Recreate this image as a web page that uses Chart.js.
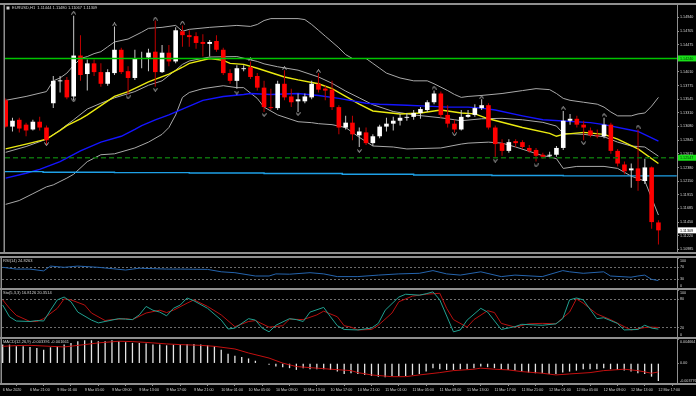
<!DOCTYPE html>
<html>
<head>
<meta charset="utf-8">
<script src="https://cdn.jsdelivr.net/npm/chart.js@4.4.1/dist/chart.umd.min.js"></script>
<style>
  html, body { margin: 0; padding: 0; background: #000; }
  #wrap { position: relative; width: 696px; height: 396px; overflow: hidden; background: #000; }
  canvas { position: absolute; left: 0; }
</style>
</head>
<body>
<div id="wrap">
  <canvas id="main" width="696" height="257" style="top:0"></canvas>
  <canvas id="rsi" width="696" height="33" style="top:256px"></canvas>
  <canvas id="sto" width="696" height="50" style="top:288px"></canvas>
  <canvas id="macd" width="696" height="59" style="top:337px"></canvas>
</div>
<script>
// ---- data (EURUSD H1, 6 Mar 17:00 .. 12 Mar 17:00) ----
const mainTitle = 'EURUSD,H1  1.11444 1.11480 1.11067 1.11309';
const timeLabels = ['6 Mar 2020', '6 Mar 21:00', '9 Mar 01:00', '9 Mar 05:00', '9 Mar 09:00', '9 Mar 13:00',
  '9 Mar 17:00', '9 Mar 21:00', '10 Mar 01:00', '10 Mar 05:00', '10 Mar 09:00', '10 Mar 13:00', '10 Mar 17:00',
  '10 Mar 21:00', '11 Mar 01:00', '11 Mar 05:00', '11 Mar 09:00', '11 Mar 13:00', '11 Mar 17:00', '11 Mar 21:00',
  '12 Mar 01:00', '12 Mar 05:00', '12 Mar 09:00', '12 Mar 13:00', '12 Mar 17:00'];
const priceTicks = [1.14940, 1.14705, 1.14475, 1.14240, 1.14010, 1.13775, 1.13545, 1.13310, 1.13080,
  1.12845, 1.12615, 1.12380, 1.12150, 1.11915, 1.11685, 1.11450, 1.11220, 1.10985];

const openP = [1.13526, 1.13078, 1.13194, 1.13111, 1.13029, 1.13161, 1.13062, 1.13476, 1.13850, 1.13874,
  1.13592, 1.14289, 1.13974, 1.14156, 1.14007, 1.13808, 1.13990, 1.14388, 1.14023, 1.13907,
  1.14231, 1.14256, 1.14355, 1.14007, 1.14338, 1.14189, 1.14703, 1.14637, 1.14620, 1.14521,
  1.14488, 1.14537, 1.14388, 1.13990, 1.13858, 1.14057, 1.14090, 1.13941, 1.13742, 1.13410,
  1.13393, 1.13808, 1.13592, 1.13509, 1.13509, 1.13576, 1.13808, 1.13725, 1.13708, 1.13410,
  1.13062, 1.13145, 1.12929, 1.12979, 1.12796, 1.12913, 1.13078, 1.13128, 1.13178, 1.13228,
  1.13244, 1.13310, 1.13360, 1.13493, 1.13642, 1.13277, 1.13128, 1.13029, 1.13244, 1.13277,
  1.13393, 1.13443, 1.13062, 1.12796, 1.12664, 1.12830, 1.12813, 1.12714, 1.12680, 1.12598,
  1.12581, 1.12598, 1.12714, 1.13178, 1.13211, 1.13111, 1.13012, 1.12929, 1.12913, 1.13111,
  1.12664, 1.12432, 1.12332, 1.12365, 1.12150, 1.12382, 1.11444];
const highP = [1.13559, 1.13228, 1.13228, 1.13145, 1.13194, 1.13244, 1.13095, 1.13941, 1.13941, 1.13924,
  1.14968, 1.14637, 1.14222, 1.14222, 1.14156, 1.14057, 1.14786, 1.14421, 1.14106, 1.14388,
  1.14355, 1.14405, 1.14886, 1.14471, 1.14471, 1.14770, 1.14803, 1.14720, 1.14687, 1.14653,
  1.14554, 1.14637, 1.14421, 1.14057, 1.14123, 1.14123, 1.14189, 1.13990, 1.13858, 1.13725,
  1.13858, 1.14040, 1.13725, 1.13642, 1.13642, 1.13858, 1.13990, 1.13775, 1.13858, 1.13443,
  1.13261, 1.13261, 1.13062, 1.13062, 1.12946, 1.13111, 1.13228, 1.13244, 1.13294, 1.13310,
  1.13360, 1.13410, 1.13526, 1.13692, 1.13675, 1.13443, 1.13194, 1.13360, 1.13360, 1.13460,
  1.13543, 1.13476, 1.13095, 1.12863, 1.12863, 1.12863, 1.12846, 1.12763, 1.12714, 1.12631,
  1.12647, 1.12747, 1.13344, 1.13294, 1.13261, 1.13178, 1.13062, 1.13029, 1.13228, 1.13145,
  1.12697, 1.12481, 1.12448, 1.13029, 1.12531, 1.12399, 1.11480];
const lowP = [1.13062, 1.12995, 1.12979, 1.12913, 1.13012, 1.13012, 1.12763, 1.13393, 1.13659, 1.13543,
  1.13526, 1.13858, 1.13692, 1.13941, 1.13758, 1.13775, 1.13957, 1.13974, 1.13626, 1.13874,
  1.14073, 1.14023, 1.13758, 1.13990, 1.14106, 1.14156, 1.14438, 1.14438, 1.14405, 1.14272,
  1.14272, 1.14355, 1.13957, 1.13808, 1.13725, 1.14023, 1.13891, 1.13692, 1.13327, 1.13360,
  1.13360, 1.13526, 1.13410, 1.13327, 1.13476, 1.13543, 1.13659, 1.13526, 1.13360, 1.12946,
  1.13029, 1.12846, 1.12730, 1.12763, 1.12747, 1.12879, 1.12995, 1.13012, 1.13095, 1.13178,
  1.13194, 1.13211, 1.13327, 1.13460, 1.13228, 1.13062, 1.12979, 1.13012, 1.13228, 1.13244,
  1.13360, 1.13029, 1.12564, 1.12581, 1.12631, 1.12730, 1.12697, 1.12631, 1.12481, 1.12531,
  1.12548, 1.12564, 1.12680, 1.13111, 1.13062, 1.12846, 1.12896, 1.12879, 1.12879, 1.12614,
  1.12399, 1.12266, 1.12034, 1.11984, 1.12100, 1.11337, 1.11067];
const closeP = [1.13078, 1.13178, 1.13045, 1.13012, 1.13161, 1.13062, 1.12846, 1.13858, 1.13866, 1.13576,
  1.14289, 1.13957, 1.14156, 1.14007, 1.13808, 1.14007, 1.14388, 1.14007, 1.13907, 1.14239,
  1.14247, 1.14338, 1.14007, 1.14338, 1.14189, 1.14720, 1.14637, 1.14604, 1.14504, 1.14488,
  1.14521, 1.14388, 1.13990, 1.13858, 1.14073, 1.14073, 1.13924, 1.13742, 1.13410, 1.13393,
  1.13808, 1.13576, 1.13493, 1.13543, 1.13592, 1.13808, 1.13708, 1.13692, 1.13410, 1.13062,
  1.13145, 1.12946, 1.12995, 1.12796, 1.12913, 1.13078, 1.13128, 1.13178, 1.13228, 1.13244,
  1.13310, 1.13377, 1.13493, 1.13642, 1.13277, 1.13128, 1.13029, 1.13244, 1.13277, 1.13393,
  1.13443, 1.13062, 1.12780, 1.12664, 1.12813, 1.12796, 1.12730, 1.12664, 1.12581, 1.12564,
  1.12598, 1.12714, 1.13178, 1.13211, 1.13111, 1.13062, 1.12929, 1.12913, 1.13111, 1.12664,
  1.12448, 1.12316, 1.12365, 1.12150, 1.12382, 1.11450, 1.11309];

// indicator lines: [bar, value]
const bbUpper = [[0,1.13526],[3,1.13592],[6,1.13675],[7,1.13858],[8,1.13907],[9,1.13990],[10,1.14123],[11,1.14239],
  [12,1.14272],[13,1.14322],[14,1.14355],[15,1.14438],[16,1.14521],[18,1.14571],[20,1.14687],[21,1.14753],[23,1.14770],
  [25,1.14803],[26,1.14703],[27,1.14736],[30,1.14770],[34,1.14803],[36,1.14786],[37,1.14819],[38,1.14886],[39,1.14919],
  [43,1.14919],[44,1.14902],[45,1.14819],[46,1.14720],[47,1.14620],[48,1.14521],[49,1.14421],[50,1.14305],[51,1.14239],
  [53,1.14239],[54,1.14156],[55,1.14073],[56,1.13990],[58,1.13907],[60,1.13858],[62,1.13858],[63,1.13808],[65,1.13692],
  [66,1.13626],[67,1.13576],[68,1.13592],[70,1.13609],[73,1.13642],[76,1.13692],[78,1.13725],[80,1.13708],[81,1.13642],
  [82,1.13559],[83,1.13526],[85,1.13493],[87,1.13460],[88,1.13410],[89,1.13327],[90,1.13261],[92,1.13261],[93,1.13294],
  [94,1.13310],[95,1.13427],[96,1.13576]];
const bbMiddle = [[0,1.12639],[3,1.12738],[6,1.12863],[8,1.13020],[10,1.13194],[12,1.13377],[14,1.13476],[16,1.13568],
  [19,1.13675],[21,1.13783],[23,1.13858],[25,1.14040],[26,1.14139],[27,1.14197],[30,1.14264],[34,1.14272],[37,1.14189],
  [38,1.14148],[40,1.14098],[43,1.14040],[46,1.13924],[48,1.13816],[50,1.13683],[52,1.13568],[54,1.13451],[57,1.13335],
  [60,1.13277],[64,1.13228],[67,1.13178],[70,1.13211],[73,1.13219],[76,1.13194],[79,1.13150],[81,1.13087],[82,1.12962],
  [85,1.12946],[88,1.12905],[90,1.12813],[92,1.12747],[94,1.12730],[96,1.12573]];
const bbLower = [[0,1.11752],[2,1.11818],[4,1.11934],[6,1.12051],[7,1.12084],[9,1.12200],[10,1.12266],[12,1.12481],
  [14,1.12598],[16,1.12614],[19,1.12714],[21,1.12813],[23,1.12946],[24,1.13062],[25,1.13277],[26,1.13576],[27,1.13659],
  [29,1.13725],[32,1.13775],[34,1.13742],[35,1.13742],[37,1.13559],[38,1.13410],[40,1.13277],[43,1.13161],[45,1.13145],
  [46,1.13128],[48,1.13111],[50,1.13062],[52,1.12896],[54,1.12747],[57,1.12730],[59,1.12697],[64,1.12714],[67,1.12780],
  [68,1.12796],[71,1.12813],[73,1.12796],[75,1.12730],[79,1.12581],[80,1.12564],[81,1.12531],[82,1.12365],[84,1.12399],
  [88,1.12399],[90,1.12365],[92,1.12233],[94,1.12150],[96,1.11570]];
const maYellow = [[0,1.12697],[3,1.12780],[6,1.12863],[8,1.13012],[9,1.13095],[11,1.13211],[12,1.13277],[16,1.13592],
  [18,1.13675],[21,1.13841],[24,1.13974],[26,1.14090],[27,1.14156],[30,1.14239],[32,1.14206],[33,1.14156],[35,1.14139],
  [37,1.14073],[41,1.13924],[43,1.13874],[46,1.13808],[48,1.13725],[50,1.13592],[52,1.13460],[54,1.13344],[58,1.13294],
  [61,1.13310],[64,1.13360],[67,1.13310],[69,1.13294],[71,1.13211],[76,1.13062],[80,1.12962],[81,1.12913],[82,1.12946],
  [85,1.12979],[88,1.12946],[90,1.12863],[93,1.12697],[96,1.12448]];
const maBlue = [[0,1.12200],[3,1.12282],[5,1.12349],[8,1.12481],[11,1.12664],[14,1.12813],[17,1.12913],[19,1.13029],
  [20,1.13095],[22,1.13194],[24,1.13277],[29,1.13526],[32,1.13592],[35,1.13626],[36,1.13642],[39,1.13626],[43,1.13642],
  [46,1.13609],[49,1.13559],[53,1.13476],[55,1.13460],[59,1.13443],[62,1.13427],[65,1.13410],[68,1.13410],[70,1.13393],
  [72,1.13360],[76,1.13261],[79,1.13194],[86,1.13145],[88,1.13111],[93,1.12995],[96,1.12830]];
const maCyan = [[-0.1,1.12311],[5.5,1.12299],[16,1.12294],[27,1.12287],[38,1.12278],[49.5,1.12266],[60,1.12254],
  [71.5,1.12244],[82,1.12238],[98.7,1.12238]];
const levelSolid = 1.14240;
const levelDashed = 1.12547;
const lastPrice = 1.11309;
const fractalUp = [[10,1.15018],[16,1.14819],[22,1.14919],[26,1.14852],[36,1.14222],[41,1.14073],[46,1.14023],
  [63,1.13742],[70,1.13576],[82,1.13393],[88,1.13277],[93,1.13078]];
const fractalDown = [[6,1.12780],[10,1.13526],[18,1.13576],[22,1.13708],[34,1.13659],[38,1.13277],[43,1.13294],
  [52,1.12664],[66,1.12946],[72,1.12498],[78,1.12415],[85,1.12796]];

const rsiTitle = 'RSI(14) 24.8263';
const rsiLine = [[0,69],[2,63],[4,63],[6,57],[7,73],[9,69],[11,73],[14,69],[18,60],[20,66],[24,63],[26,63],[30,62],
  [32,54],[34,51],[37,40],[39,40],[40,47],[42,46],[45,51],[47,47],[49,38],[52,38],[55,43],[58,47],[61,49],[63,58],
  [65,47],[67,43],[70,54],[73,38],[75,43],[79,38],[82,58],[83,54],[85,49],[88,54],[89,40],[92,36],[93,40],[94,43],
  [95,29],[96,24.83]];
const rsiAxis = [100, 70, 30, 0];
const rsiLevels = [70, 30];

const stoTitle = 'Sto(5,3,3) 16.8126 20.3514';
const stoMain = [[0,68],[1,43],[2,34],[4,33],[5,35],[6,34],[7,57],[8,79],[9,85],[10,75],[11,53],[13,36],[14,30],[15,33],
  [17,39],[18,38],[19,37],[20,47],[21,65],[22,57],[23,53],[24,45],[25,61],[26,68],[27,83],[28,77],[30,61],[32,36],
  [33,17],[34,19],[36,39],[37,36],[38,19],[39,11],[40,25],[42,39],[43,37],[44,33],[45,53],[47,63],[48,43],[49,24],
  [50,16],[52,15],[54,19],[55,29],[56,57],[58,85],[59,91],[61,89],[62,92],[63,96],[64,79],[66,11],[67,15],[68,36],
  [70,61],[71,53],[73,16],[75,22],[76,27],[79,25],[81,28],[82,39],[83,79],[84,83],[85,79],[87,39],[88,41],[90,29],
  [91,15],[93,16],[94,25],[95,19],[96,16.81]];
const stoSignal = [[0,79],[1,61],[2,46],[4,33],[5,33],[6,39],[8,61],[9,81],[10,79],[12,68],[13,51],[15,35],[16,37],
  [18,39],[19,37],[21,51],[23,57],[24,52],[25,57],[27,72],[28,79],[30,65],[32,47],[34,22],[36,33],[37,35],[39,21],
  [41,24],[42,38],[44,37],[46,47],[47,55],[49,43],[50,24],[51,21],[52,15],[54,16],[55,25],[57,51],[58,75],[60,87],
  [62,91],[64,93],[65,61],[66,37],[68,21],[69,37],[71,56],[72,52],[73,29],[75,21],[77,28],[79,29],[81,28],[83,53],
  [84,81],[85,72],[87,49],[89,37],[91,22],[92,15],[94,20],[95,21],[96,20.35]];
const stoAxis = [100, 80, 20, 0];
const stoLevels = [80, 20];

const macdTitle = 'MACD(12,26,9) -0.003391 -0.001661';
const macdHist = [0.00359, 0.00359, 0.00326, 0.00326, 0.00314, 0.00295, 0.00262, 0.00307, 0.00326, 0.00359,
  0.00392, 0.00423, 0.00442, 0.00442, 0.00423, 0.00423, 0.00442, 0.00423, 0.00404, 0.00392,
  0.00392, 0.00378, 0.00359, 0.00359, 0.00345, 0.00359, 0.00359, 0.00372, 0.00372, 0.00359,
  0.00345, 0.00326, 0.00262, 0.00184, 0.00146, 0.00120, 0.00093, 0.00049, -0.00010, -0.00029,
  -0.00062, -0.00074, -0.00093, -0.00126, -0.00093, -0.00113, -0.00113, -0.00113, -0.00126, -0.00159,
  -0.00204, -0.00190, -0.00204, -0.00223, -0.00243, -0.00256, -0.00268, -0.00243, -0.00243, -0.00243,
  -0.00223, -0.00204, -0.00159, -0.00093, -0.00113, -0.00126, -0.00126, -0.00113, -0.00113, -0.00093,
  -0.00062, -0.00074, -0.00093, -0.00113, -0.00126, -0.00140, -0.00159, -0.00178, -0.00190, -0.00190,
  -0.00204, -0.00204, -0.00178, -0.00159, -0.00140, -0.00113, -0.00113, -0.00113, -0.00093, -0.00113,
  -0.00126, -0.00140, -0.00159, -0.00190, -0.00204, -0.00256, -0.003391];
const macdSignal = [[0,0.00326],[2,0.00340],[4,0.00345],[7,0.00326],[9,0.00314],[12,0.00359],[14,0.00392],[17,0.00423],
  [19,0.00417],[22,0.00392],[24,0.00372],[26,0.00359],[29,0.00345],[31,0.00326],[34,0.00275],[36,0.00198],[39,0.00101],
  [41,0.00004],[43,-0.00062],[46,-0.00093],[48,-0.00113],[51,-0.00140],[52,-0.00178],[54,-0.00223],[57,-0.00256],
  [59,-0.00256],[61,-0.00223],[64,-0.00178],[66,-0.00140],[69,-0.00113],[70,-0.00093],[72,-0.00113],[74,-0.00126],
  [76,-0.00159],[79,-0.00190],[81,-0.00223],[83,-0.00204],[86,-0.00178],[88,-0.00140],[91,-0.00113],[93,-0.00140],
  [95,-0.00190],[96,-0.001661]];
const macdAxis = [0.004664, 0, -0.003776];
const macdAxisText = ['0.004664', '0.00', '-0.003776'];

// ---- look ----
const FAMILY = "'Liberation Sans', Arial, sans-serif";
const AXIS_FONT = { family: FAMILY, size: 3.7 };
const GRAY = '#8f8f8f';
const TXT = '#d4d4d4';
const X_MIN = -0.1, X_MAX = 98.73, AXIS_W = 19;

const pts = arr => arr.map(([x, y]) => ({ x, y }));
const bars = openP.map((_, i) => i);
const isUp = i => closeP[i] >= openP[i];

function chevron(up) {
  const c = document.createElement('canvas');
  c.width = 5; c.height = 4;
  const g = c.getContext('2d');
  g.strokeStyle = '#b8b8b8'; g.lineWidth = 1;
  g.beginPath();
  if (up) { g.moveTo(0.5, 3.5); g.lineTo(2.5, 0.5); g.lineTo(4.5, 3.5); }
  else { g.moveTo(0.5, 0.5); g.lineTo(2.5, 3.5); g.lineTo(4.5, 0.5); }
  g.stroke();
  return c;
}

// black background, panel separators, header text and the side labels
const panelDeco = {
  id: 'panelDeco',
  beforeDraw(chart) {
    const { ctx, width, height } = chart;
    ctx.save();
    ctx.fillStyle = '#000';
    ctx.fillRect(0, 0, width, height);
    ctx.restore();
  },
  afterDraw(chart, args, o) {
    const { ctx, chartArea: a, width } = chart;
    const y = chart.scales.y;
    ctx.save();
    ctx.fillStyle = GRAY;
    ctx.fillRect(0, a.top - 2, width, 2);
    ctx.fillRect(0, a.bottom, width, 2);
    ctx.fillRect(a.left - 1.5, a.top, 1.5, a.bottom - a.top);
    ctx.textBaseline = 'middle';
    if (o.icon) {
      ctx.fillStyle = '#cfcfcf';
      ctx.fillRect(a.left + 1.5, a.top + 1.5, 3, 3);
    }
    ctx.fillStyle = TXT;
    ctx.font = '4px ' + FAMILY;
    ctx.fillText(o.title, a.left + (o.icon ? 7 : 1), a.top + 3);
    ctx.font = '3.7px ' + FAMILY;
    (o.labels || []).forEach(([v, t]) => {
      const py = Math.min(Math.max(y.getPixelForValue(v), a.top + 3), a.bottom - 2.5);
      ctx.fillStyle = TXT;
      ctx.fillText(t, a.right + 3, py);
    });
    (o.boxes || []).forEach(([v, bg, fg]) => {
      const py = y.getPixelForValue(v);
      ctx.fillStyle = bg;
      ctx.fillRect(a.right + 1, py - 3, AXIS_W - 1, 6);
      ctx.fillStyle = fg;
      ctx.fillText(v.toFixed(5), a.right + 3, py + 0.2);
    });
    ctx.restore();
  }
};

function baseOptions(padding, deco) {
  return {
    responsive: false, animation: false, devicePixelRatio: 1, events: [],
    layout: { padding },
    plugins: { legend: { display: false }, tooltip: { enabled: false }, panelDeco: deco }
  };
}
const xHidden = { type: 'linear', min: X_MIN, max: X_MAX, offset: false, display: false };

function subAxis(min, max, tickVals, levels) {
  return {
    position: 'right', min, max,
    afterFit: s => { s.width = AXIS_W; s.paddingTop = 0; s.paddingBottom = 0; },
    afterBuildTicks: s => { s.ticks = tickVals.map(value => ({ value })); },
    ticks: { display: false },
    grid: {
      drawOnChartArea: true, tickLength: 2, tickColor: GRAY, lineWidth: 0.8,
      color: c => (c.tick && levels.includes(c.tick.value)) ? '#8a8a8a' : 'rgba(0,0,0,0)'
    },
    border: { color: GRAY, width: 1, dash: [2, 2] }
  };
}

function line(arr, color, width, extra) {
  return Object.assign({
    type: 'line', data: pts(arr), borderColor: color, borderWidth: width,
    pointRadius: 0, tension: 0, fill: false, order: 5
  }, extra || {});
}

// ---- main price panel ----
new Chart(document.getElementById('main'), {
  type: 'line',
  data: {
    datasets: [
      line([[X_MIN, levelSolid], [X_MAX, levelSolid]], '#00c400', 1.5, { order: 0 }),
      line([[X_MIN, levelDashed], [X_MAX, levelDashed]], '#0c6e0c', 1.3, { order: 0, borderDash: [5, 3] }),
      { type: 'line', showLine: false, data: pts(fractalUp), pointStyle: chevron(true), pointRadius: 3, order: 1 },
      { type: 'line', showLine: false, data: pts(fractalDown), pointStyle: chevron(false), pointRadius: 3, order: 1 },
      {
        type: 'bar', data: bars.map(i => ({ x: i, y: [openP[i], closeP[i]] })),
        backgroundColor: bars.map(i => isUp(i) ? '#ffffff' : '#ff0000'),
        barThickness: 4.6, grouped: false, inflateAmount: 0, order: 2
      },
      {
        type: 'bar', data: bars.map(i => ({ x: i, y: [lowP[i], highP[i]] })),
        backgroundColor: bars.map(i => isUp(i) ? '#c8c8c8' : '#c00000'),
        barThickness: 1, grouped: false, inflateAmount: 0, order: 3
      },
      line(maCyan, '#1ea0e6', 1.4, { stepped: true }),
      line(maBlue, '#1414ff', 1.4),
      line(maYellow, '#eaea10', 1.4),
      line(bbUpper, '#a9a9a9', 1),
      line(bbMiddle, '#a9a9a9', 1),
      line(bbLower, '#a9a9a9', 1)
    ]
  },
  options: Object.assign(baseOptions({ left: 2, right: 0, top: 2, bottom: 1 }, {
    title: mainTitle, icon: true,
    boxes: [[levelSolid, '#19e019', '#063006'], [levelDashed, '#19e019', '#063006'], [lastPrice, '#ffffff', '#000000']]
  }), {
    scales: {
      x: xHidden,
      y: {
        position: 'right', min: 1.10940, max: 1.15151,
        afterFit: s => { s.width = AXIS_W; s.paddingTop = 0; s.paddingBottom = 0; },
        afterBuildTicks: s => { s.ticks = priceTicks.map(value => ({ value })); },
        ticks: { color: TXT, font: AXIS_FONT, padding: 1, autoSkip: false, callback: v => v.toFixed(5) },
        grid: { drawOnChartArea: false, tickLength: 2, color: GRAY },
        border: { color: GRAY, width: 1 }
      }
    }
  }),
  plugins: [panelDeco]
});

// ---- RSI ----
new Chart(document.getElementById('rsi'), {
  type: 'line',
  data: { datasets: [line(rsiLine, '#2464ae', 1)] },
  options: Object.assign(baseOptions({ left: 2, right: 0, top: 2, bottom: 1 }, {
    title: rsiTitle, labels: rsiAxis.map(v => [v, String(v)])
  }), { scales: { x: xHidden, y: subAxis(0, 100, rsiAxis, rsiLevels) } }),
  plugins: [panelDeco]
});

// ---- Stochastic ----
new Chart(document.getElementById('sto'), {
  type: 'line',
  data: { datasets: [line(stoMain, '#20a090', 1), line(stoSignal, '#b81010', 1)] },
  options: Object.assign(baseOptions({ left: 2, right: 0, top: 2, bottom: 1 }, {
    title: stoTitle, labels: stoAxis.map(v => [v, String(v)])
  }), { scales: { x: xHidden, y: subAxis(0, 100, stoAxis, stoLevels) } }),
  plugins: [panelDeco]
});

// ---- MACD + time axis ----
new Chart(document.getElementById('macd'), {
  type: 'line',
  data: {
    datasets: [
      line(macdSignal, '#c41010', 1, { order: 0 }),
      {
        type: 'bar', data: bars.map(i => ({ x: i, y: macdHist[i] })),
        backgroundColor: '#e6e6e6', barThickness: 1.3, grouped: false, inflateAmount: 0, order: 1
      }
    ]
  },
  options: Object.assign(baseOptions({ left: 2, right: 0, top: 2, bottom: 0 }, {
    title: macdTitle, labels: macdAxis.map((v, k) => [v, macdAxisText[k]])
  }), {
    scales: {
      x: {
        type: 'linear', min: X_MIN, max: X_MAX, offset: false, position: 'bottom',
        afterFit: s => { s.height = 13; s.paddingLeft = 0; s.paddingRight = 0; },
        afterBuildTicks: s => { s.ticks = timeLabels.map((_, k) => ({ value: k * 4 })); },
        ticks: {
          color: TXT, font: AXIS_FONT, align: 'start', padding: 1.5, autoSkip: false,
          maxRotation: 0, minRotation: 0, callback: (v, i) => timeLabels[i]
        },
        grid: { drawOnChartArea: false, tickLength: 3, color: GRAY },
        border: { display: false }
      },
      y: subAxis(-0.003776, 0.004664, macdAxis, [])
    }
  }),
  plugins: [panelDeco]
});
</script>
</body>
</html>
